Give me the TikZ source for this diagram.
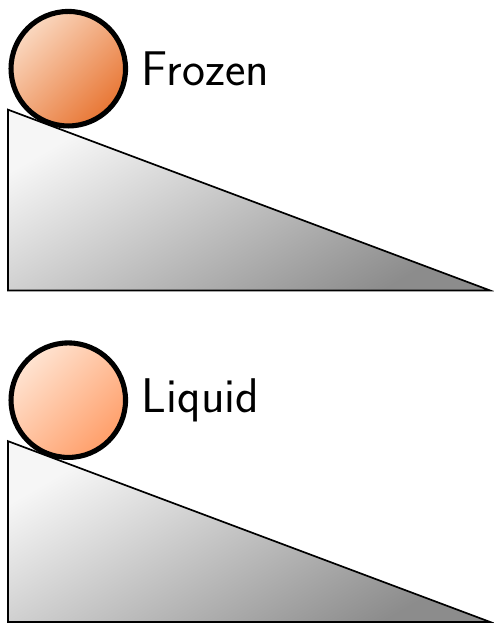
\documentclass[tikz,border=0pt]{standalone}
\usepackage{tikz}
\usetikzlibrary{positioning}

\definecolor{frozenlight}{RGB}{250,216,192}
\definecolor{frozendark}{RGB}{232,118,52}
\definecolor{liquidlight}{RGB}{255,228,210}
\definecolor{liquiddark}{RGB}{255,158,105}
\definecolor{rampLight}{RGB}{246,246,246}
\definecolor{rampDark}{RGB}{140,140,140}

\tikzset{
	ramp/.style={draw=black,thick,top color=rampLight,bottom color=rampDark,shading angle=30},
	ball/.style 2 args={circle,draw=black,line width=2.4pt,minimum size=1.9cm,inner sep=0pt,
		top color=#1,bottom color=#2,shading angle=45},
	state/.style={font=\fontsize{23}{28}\selectfont\sffamily}
}

\begin{document}
\begin{tikzpicture}
		% ramp length/height and gap between the two cases
		\def\L{8}
		\def\H{3}
		\def\shift{5.5}
		\useasboundingbox (-0.133,-0.017) rectangle (8.05,10.32);
		
		% frozen case (top)
		\coordinate (fa) at (0,\shift);
		\coordinate (fb) at (\L,\shift);
		\coordinate (fc) at (0,\shift+\H);
		\shade[ramp] (fa) -- (fb) -- (fc) -- cycle;
		\node[ball={frozenlight}{frozendark}] (frozenball) at (1,\shift+3.68) {};
		\node[state,right=3pt of frozenball] (frozenlabel) {Frozen};
		
		% liquid case (bottom)
		\coordinate (la) at (0,0);
		\coordinate (lb) at (\L,0);
		\coordinate (lc) at (0,\H);
		\shade[ramp] (la) -- (lb) -- (lc) -- cycle;
		\node[ball={liquidlight}{liquiddark}] (liquidball) at (1,3.68) {};
		\node[state,right=3pt of liquidball] (liquidlabel) {Liquid};
	\end{tikzpicture}
\end{document}
